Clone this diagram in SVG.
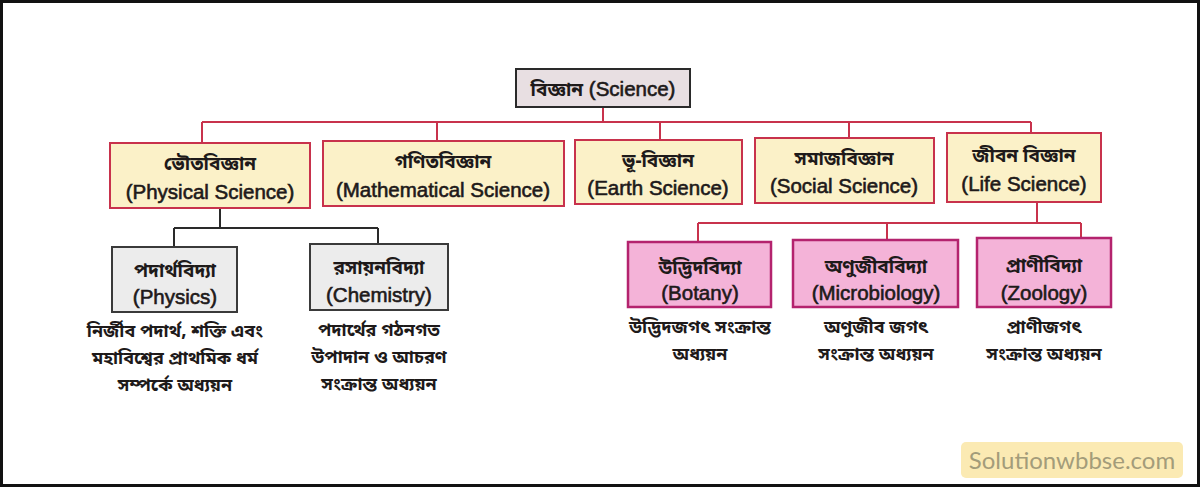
<svg xmlns="http://www.w3.org/2000/svg" width="1200" height="487" viewBox="0 0 1200 487">
<defs>
<style>
.t{font-family:"Noto Sans Bengali","Liberation Sans","Noto Sans",sans-serif;fill:#1e1a1a;text-anchor:middle;}
.en{font-family:"Liberation Sans","Noto Sans Bengali",Arial,sans-serif;font-size:20.5px;stroke:#1e1a1a;stroke-width:0.6;}
.bn{font-family:"Noto Sans Bengali","Liberation Sans",sans-serif;font-size:19px;font-weight:bold;stroke:none;}
.ds{font-size:18px;font-weight:bold;}
.top{fill:#e8dfe2;stroke:#2a2a2a;stroke-width:2;}
.l1{fill:#fbf1c8;stroke:#c8324c;stroke-width:2;}
.gr{fill:#ececec;stroke:#3a3a3a;stroke-width:2;}
.pk{fill:#f4b3d8;stroke:#b4236e;stroke-width:2.5;}
.red{stroke:#c8324c;stroke-width:2;fill:none;}
.blk{stroke:#2a2a2a;stroke-width:2;fill:none;}
</style>
</defs>
<rect x="0" y="0" width="1200" height="487" fill="#ffffff"/>
<rect x="1.5" y="1.5" width="1197" height="484" fill="none" stroke="#111" stroke-width="3"/>

<g id="connectors">
<path class="red" d="M603,107 V122 M202,122 H1031 M202,122 V143 M437,122 V141 M660,122 V140 M849,122 V138 M1031,122 V133"/>
<path class="blk" d="M220,208 V228 M174,228 H378 M174,228 V247 M378,228 V244"/>
<path class="red" d="M1037,202 V223 M698,223 H1081 M698,223 V242 M887,223 V240 M1081,223 V238"/>
</g>

<g id="science">
<rect class="top" x="516" y="69" width="174" height="38"/>
<text class="t en" x="603" y="96"><tspan class="bn">বিজ্ঞান</tspan>  (Science)</text>
</g>

<g id="physical-science">
<rect class="l1" x="110" y="143" width="200" height="65"/>
<text class="t bn" x="210" y="170">ভৌতবিজ্ঞান</text>
<text class="t en" x="210" y="199">(Physical Science)</text>
</g>
<g id="mathematical-science">
<rect class="l1" x="323" y="141" width="241" height="65"/>
<text class="t bn" x="443" y="168">গণিতবিজ্ঞান</text>
<text class="t en" x="443" y="197">(Mathematical Science)</text>
</g>
<g id="earth-science">
<rect class="l1" x="575" y="140" width="167" height="64"/>
<text class="t bn" x="658" y="167">ভূ-বিজ্ঞান</text>
<text class="t en" x="658" y="195">(Earth Science)</text>
</g>
<g id="social-science">
<rect class="l1" x="755" y="138" width="179" height="65"/>
<text class="t bn" x="844" y="165">সমাজবিজ্ঞান</text>
<text class="t en" x="844" y="193">(Social Science)</text>
</g>
<g id="life-science">
<rect class="l1" x="947" y="133" width="154" height="69"/>
<text class="t bn" x="1024" y="162">জীবন বিজ্ঞান</text>
<text class="t en" x="1024" y="191">(Life Science)</text>
</g>

<g id="physics">
<rect class="gr" x="112" y="247" width="125" height="65"/>
<text class="t bn" x="175" y="277">পদার্থবিদ্যা</text>
<text class="t en" x="175" y="304">(Physics)</text>
<text class="t ds" x="175" y="337">নির্জীব পদার্থ, শক্তি এবং</text>
<text class="t ds" x="175" y="364">মহাবিশ্বের প্রাথমিক ধর্ম</text>
<text class="t ds" x="175" y="391">সম্পর্কে অধ্যয়ন</text>
</g>
<g id="chemistry">
<rect class="gr" x="310" y="244" width="138" height="66"/>
<text class="t bn" x="379" y="274">রসায়নবিদ্যা</text>
<text class="t en" x="379" y="302">(Chemistry)</text>
<text class="t ds" x="379" y="336">পদার্থের গঠনগত</text>
<text class="t ds" x="379" y="363">উপাদান ও আচরণ</text>
<text class="t ds" x="379" y="390">সংক্রান্ত অধ্যয়ন</text>
</g>

<g id="botany">
<rect class="pk" x="628" y="242" width="143" height="65"/>
<text class="t bn" x="700" y="274">উদ্ভিদবিদ্যা</text>
<text class="t en" x="700" y="300">(Botany)</text>
<text class="t ds" x="700" y="333">উদ্ভিদজগৎ সংক্রান্ত</text>
<text class="t ds" x="700" y="360">অধ্যয়ন</text>
</g>
<g id="microbiology">
<rect class="pk" x="793" y="240" width="165" height="67"/>
<text class="t bn" x="876" y="273">অণুজীববিদ্যা</text>
<text class="t en" x="876" y="300">(Microbiology)</text>
<text class="t ds" x="876" y="333">অণুজীব জগৎ</text>
<text class="t ds" x="876" y="360">সংক্রান্ত অধ্যয়ন</text>
</g>
<g id="zoology">
<rect class="pk" x="977" y="238" width="134" height="69"/>
<text class="t bn" x="1044" y="272">প্রাণীবিদ্যা</text>
<text class="t en" x="1044" y="300">(Zoology)</text>
<text class="t ds" x="1044" y="333">প্রাণীজগৎ</text>
<text class="t ds" x="1044" y="360">সংক্রান্ত অধ্যয়ন</text>
</g>

<g id="watermark">
<rect x="961" y="442" width="222" height="36" rx="5" fill="#fbeab3"/>
<text x="1072" y="469" font-family="Lato, 'Open Sans', sans-serif" font-size="24" fill="#a39c7a" text-anchor="middle">Solutionwbbse.com</text>
</g>
</svg>
